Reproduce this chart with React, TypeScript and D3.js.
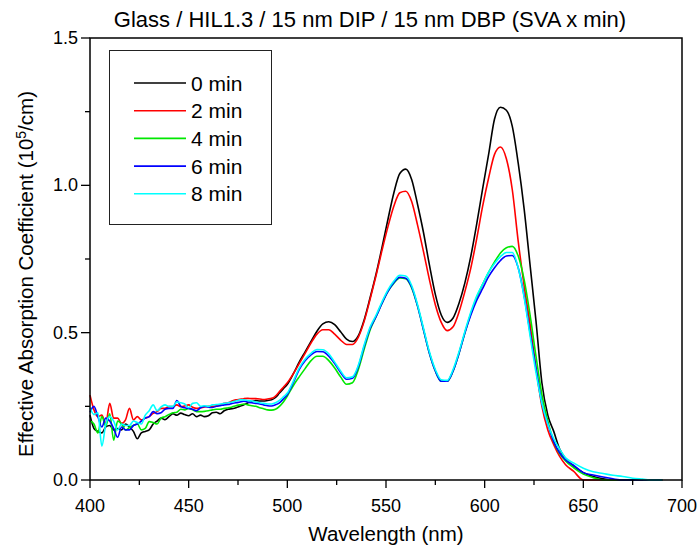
import React from "react";
import * as d3 from "d3";

const TITLE = "Glass / HIL1.3 / 15 nm DIP / 15 nm DBP (SVA x min)";
const X_LABEL = "Wavelength (nm)";
const X_TICKS = [400, 450, 500, 550, 600, 650, 700];
const Y_TICKS = [0, 0.5, 1.0, 1.5];
const Y_TICK_LABELS = ["0.0", "0.5", "1.0", "1.5"];
const SERIES_NAMES = ["0 min", "2 min", "4 min", "6 min", "8 min"];
const SERIES_COLORS = ["#000000", "#ff0000", "#00e800", "#0000ff", "#00ffff"];

const WAVELENGTHS = [
  400, 402, 404, 406, 408, 410, 412, 414, 416, 418, 420, 422, 424, 426, 428, 430, 432, 434, 436, 438,
  440, 442, 444, 446, 448, 450, 452, 454, 456, 458, 460, 462, 464, 466, 468, 470, 472, 474, 476, 478,
  480, 482, 484, 486, 488, 490, 492, 494, 496, 498,
  500, 503, 506, 509, 512, 515, 518, 521, 524, 527, 530, 533, 536, 539, 542, 545, 548, 551, 554, 557,
  560, 563, 566, 569, 572, 575, 578, 581, 584, 587, 590, 593, 596, 599, 602, 605, 608, 611, 614, 617,
  620, 623, 626, 629, 632, 635, 638, 641,
  645, 650, 655, 660, 665, 670, 675, 680, 685, 690,
];

const MIN0 = [
  0.22, 0.175, 0.165, 0.16, 0.18, 0.185, 0.17, 0.175, 0.17, 0.19, 0.18, 0.165, 0.14, 0.16, 0.165, 0.17, 0.19, 0.2, 0.21, 0.205,
  0.215, 0.225, 0.22, 0.227, 0.222, 0.218, 0.225, 0.215,
  0.22, 0.215, 0.218, 0.228, 0.23, 0.225, 0.235, 0.24, 0.242, 0.245, 0.25, 0.255, 0.262, 0.266, 0.27, 0.268, 0.268, 0.27, 0.272, 0.28, 0.295, 0.31,
  0.325, 0.36, 0.4, 0.435, 0.47, 0.505, 0.53, 0.537, 0.527, 0.503, 0.478, 0.47, 0.49, 0.545, 0.62, 0.7, 0.79, 0.885, 0.975, 1.04,
  1.055, 1.02, 0.935, 0.84, 0.73, 0.63, 0.56, 0.535, 0.55, 0.6, 0.67, 0.76, 0.87, 0.99, 1.105, 1.225, 1.265, 1.255, 1.2, 1.075,
  0.92, 0.73, 0.54, 0.33, 0.22, 0.165, 0.105, 0.072,
  0.048, 0.025, 0.012, 0.004, 0, 0, 0, 0, 0, 0,
];

const MIN2 = [
  0.288, 0.238, 0.215, 0.22, 0.192, 0.26, 0.21, 0.21, 0.192, 0.204, 0.243, 0.204, 0.215, 0.204, 0.21, 0.215, 0.226, 0.232, 0.243, 0.243,
  0.249, 0.249, 0.255, 0.249, 0.251, 0.255, 0.247, 0.243,
  0.245, 0.248, 0.25, 0.25, 0.252, 0.255, 0.26, 0.262, 0.268, 0.272, 0.274, 0.276, 0.277, 0.276, 0.276, 0.275, 0.273, 0.275, 0.277, 0.285, 0.3, 0.315,
  0.33, 0.36, 0.395, 0.43, 0.465, 0.495, 0.51, 0.51, 0.495, 0.475, 0.46, 0.46, 0.485, 0.54, 0.615, 0.695, 0.78, 0.86, 0.93, 0.975,
  0.98, 0.945, 0.865, 0.775, 0.68, 0.595, 0.535, 0.507, 0.52, 0.57, 0.64, 0.72, 0.82, 0.93, 1.025, 1.105, 1.13, 1.09, 0.985, 0.81,
  0.66, 0.53, 0.38, 0.25, 0.17, 0.12, 0.08, 0.052,
  0.03, 0, 0, 0, 0, 0, 0, 0, 0, 0,
];

const MIN4 = [
  0.2, 0.19, 0.16, 0.215, 0.183, 0.225, 0.135, 0.2, 0.19, 0.17, 0.178, 0.185, 0.19, 0.17, 0.175, 0.198, 0.195, 0.19, 0.21, 0.215,
  0.222, 0.228, 0.23, 0.24, 0.238, 0.243, 0.238, 0.232,
  0.232, 0.233, 0.235, 0.238, 0.24, 0.24, 0.243, 0.245, 0.248, 0.252, 0.255, 0.258, 0.255, 0.252, 0.25, 0.245, 0.242, 0.238, 0.237, 0.24, 0.25, 0.265,
  0.285, 0.32, 0.35, 0.378, 0.405, 0.42, 0.42, 0.405, 0.38, 0.35, 0.325, 0.33, 0.375, 0.445, 0.51, 0.555, 0.6, 0.64, 0.668, 0.686,
  0.683, 0.652, 0.59, 0.51, 0.43, 0.37, 0.335, 0.335, 0.37, 0.43, 0.5, 0.565, 0.62, 0.665, 0.705, 0.74, 0.77, 0.788, 0.793, 0.76,
  0.68, 0.56, 0.42, 0.29, 0.2, 0.13, 0.09, 0.065,
  0.042, 0.02, 0.008, 0, 0, 0, 0, 0, 0, 0,
];

const MIN6 = [
  0.23, 0.25, 0.215, 0.18, 0.21, 0.2, 0.175, 0.145, 0.18, 0.17, 0.17, 0.185, 0.19, 0.2, 0.21, 0.215, 0.232, 0.225, 0.228, 0.24,
  0.243, 0.243, 0.27, 0.25, 0.245, 0.243, 0.24, 0.235,
  0.245, 0.25, 0.247, 0.246, 0.25, 0.252, 0.255, 0.256, 0.26, 0.262, 0.265, 0.267, 0.265, 0.262, 0.26, 0.258, 0.255, 0.252, 0.251, 0.255, 0.262, 0.275,
  0.29, 0.33, 0.375, 0.405, 0.425, 0.436, 0.435, 0.42, 0.395, 0.365, 0.342, 0.345, 0.385, 0.455, 0.515, 0.555, 0.6, 0.64, 0.67, 0.688,
  0.685, 0.655, 0.59, 0.51, 0.43, 0.37, 0.335, 0.335, 0.37, 0.43, 0.5, 0.56, 0.61, 0.65, 0.69, 0.72, 0.745, 0.76, 0.762, 0.72,
  0.625, 0.5, 0.38, 0.26, 0.19, 0.13, 0.092, 0.068,
  0.05, 0.025, 0.017, 0.01, 0.004, 0, 0, 0, 0, 0,
];

const MIN8 = [
  0.245, 0.222, 0.228, 0.115, 0.19, 0.215, 0.2, 0.17, 0.19, 0.185, 0.185, 0.2, 0.195, 0.19, 0.22, 0.235, 0.255, 0.235, 0.248, 0.255,
  0.25, 0.25, 0.265, 0.262, 0.258, 0.245, 0.26, 0.262,
  0.25, 0.252, 0.25, 0.255, 0.256, 0.258, 0.26, 0.262, 0.265, 0.268, 0.272, 0.272, 0.27, 0.268, 0.265, 0.262, 0.26, 0.258, 0.258, 0.262, 0.27, 0.282,
  0.295, 0.335, 0.38, 0.41, 0.43, 0.443, 0.442, 0.428, 0.4, 0.37, 0.347, 0.35, 0.39, 0.46, 0.52, 0.56, 0.605, 0.645, 0.675, 0.695,
  0.692, 0.66, 0.595, 0.515, 0.435, 0.375, 0.34, 0.338, 0.375, 0.435, 0.505, 0.57, 0.625, 0.665, 0.705, 0.735, 0.758, 0.772, 0.772, 0.72,
  0.62, 0.49, 0.365, 0.26, 0.19, 0.14, 0.105, 0.075,
  0.058, 0.04, 0.028, 0.022, 0.016, 0.012, 0.006, 0.003, 0, 0,
];

const SERIES = [MIN0, MIN2, MIN4, MIN6, MIN8];

const W = 699;
const H = 548;
const PLOT = { left: 90, right: 682, top: 38, bottom: 480 };
const FONT = "'Liberation Sans', Arial, Helvetica, sans-serif";

export default function App() {
  const x = d3.scaleLinear().domain([400, 700]).range([PLOT.left, PLOT.right]);
  const y = d3.scaleLinear().domain([0, 1.5]).range([PLOT.bottom, PLOT.top]);

  const line = d3
    .line<number>()
    .x((_, i) => x(WAVELENGTHS[i]))
    .y((d) => y(d))
    .curve(d3.curveMonotoneX);

  const xMinor = d3.range(425, 700, 50);
  const yMinor = [0.25, 0.75, 1.25];

  const legendRowY = (i: number) => 83 + i * 27.7;

  return (
    <svg
      width={W}
      height={H}
      style={{ position: "absolute", left: 0, top: 0, background: "#fff" }}
      fontFamily={FONT}
    >
      <rect x={0} y={0} width={W} height={H} fill="#fff" />
      <g fill="none" strokeWidth={1.6} strokeLinejoin="round">
        {SERIES.map((s, i) => (
          <path key={i} d={line(s) || ""} stroke={SERIES_COLORS[i]} />
        ))}
      </g>
      <rect
        x={PLOT.left}
        y={PLOT.top}
        width={PLOT.right - PLOT.left}
        height={PLOT.bottom - PLOT.top}
        fill="none"
        stroke="#000"
        strokeWidth={1.5}
      />
      <g stroke="#000" strokeWidth={1.3}>
        {X_TICKS.map((t) => (
          <line key={t} x1={x(t)} x2={x(t)} y1={PLOT.bottom} y2={PLOT.bottom + 8} />
        ))}
        {xMinor.map((t) => (
          <line key={"m" + t} x1={x(t)} x2={x(t)} y1={PLOT.bottom} y2={PLOT.bottom + 5} />
        ))}
        {Y_TICKS.map((t) => (
          <line key={"y" + t} x1={PLOT.left - 9} x2={PLOT.left} y1={y(t)} y2={y(t)} />
        ))}
        {yMinor.map((t) => (
          <line key={"ym" + t} x1={PLOT.left - 5} x2={PLOT.left} y1={y(t)} y2={y(t)} />
        ))}
      </g>
      <g fontSize={18} fill="#000">
        {X_TICKS.map((t) => (
          <text key={t} x={x(t)} y={512} textAnchor="middle">
            {t}
          </text>
        ))}
        {Y_TICKS.map((t, i) => (
          <text key={t} x={PLOT.left - 12} y={y(t) + 6} textAnchor="end">
            {Y_TICK_LABELS[i]}
          </text>
        ))}
      </g>
      <text x={370} y={27} textAnchor="middle" fontSize={22}>
        {TITLE}
      </text>
      <text x={386} y={541} textAnchor="middle" fontSize={20.5}>
        {X_LABEL}
      </text>
      <text
        transform={`translate(33, ${274}) rotate(-90)`}
        textAnchor="middle"
        fontSize={20.5}
      >
        Effective Absorption Coefficient (10
        <tspan dy={-7} fontSize={14}>
          5
        </tspan>
        <tspan dy={7}>/cm)</tspan>
      </text>
      <rect x={109.5} y={50.5} width={162} height={174} fill="#fff" stroke="#222" strokeWidth={1} />
      {SERIES_NAMES.map((name, i) => (
        <g key={name}>
          <line
            x1={134}
            x2={186}
            y1={legendRowY(i)}
            y2={legendRowY(i)}
            stroke={SERIES_COLORS[i]}
            strokeWidth={1.6}
          />
          <text x={191} y={legendRowY(i) + 7.5} fontSize={21} fill="#000">
            {name}
          </text>
        </g>
      ))}
    </svg>
  );
}
